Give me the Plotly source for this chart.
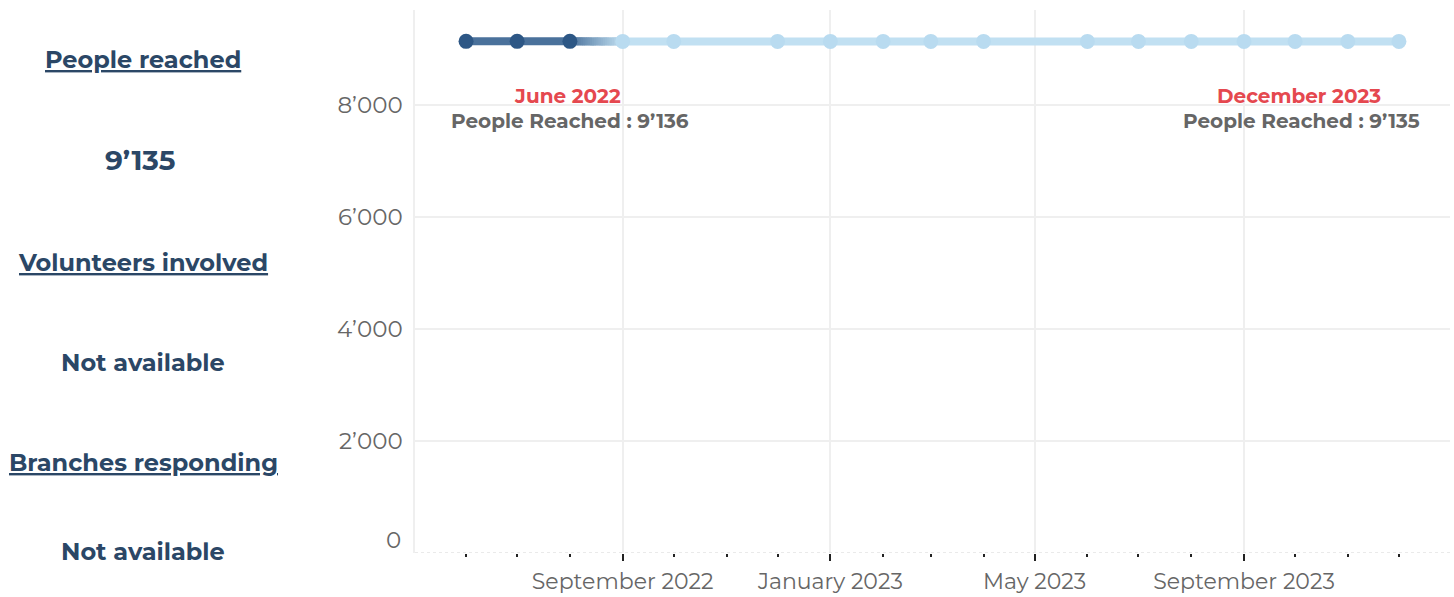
import datetime as dt
import numpy as np
import plotly.graph_objects as go

# Monthly "people reached" series
months = ["2022-06-01", "2022-07-01", "2022-08-01", "2022-09-01", "2022-10-01",
          "2022-12-01", "2023-01-01", "2023-02-01", "2023-03-01", "2023-04-01",
          "2023-06-01", "2023-07-01", "2023-08-01", "2023-09-01", "2023-10-01",
          "2023-11-01", "2023-12-01"]
people_reached = [9136, 9136, 9136, 9135, 9135, 9135, 9135, 9135, 9135, 9135,
                  9135, 9135, 9135, 9135, 9135, 9135, 9135]
n_dark = 3  # first three months shown in the dark (past) colour

# Side panel
kpi_labels = ["People reached", "Volunteers involved", "Branches responding"]
kpi_values = ["9’135", "Not available", "Not available"]

FONT = "Montserrat, Inter, Noto Sans, sans-serif"
NAVY = "#2b4766"
DARK_LINE = "#4a719b"
DARK_MARK = "#2d5785"
LIGHT_LINE = "#c1e0f2"
LIGHT_MARK = "#b9dbf0"
RED = "#e5484f"
GREY = "#666666"

W, H = 1454, 597
PLOT_L, PLOT_R, PLOT_T, PLOT_B = 415, 1450, 10, 553


def fmt(v):
    return f"{v:,}".replace(",", "’")


def month_name(d):
    return dt.date.fromisoformat(d).strftime("%B %Y")


def hex_to_rgb(h):
    h = h.lstrip("#")
    return np.array([int(h[i:i + 2], 16) for i in (0, 2, 4)], dtype=float)


fig = go.Figure()

x = np.array(months, dtype="datetime64[D]")
y = np.array(people_reached, dtype=float)

# dark part of the line
fig.add_trace(go.Scatter(x=x[:n_dark], y=y[:n_dark], mode="lines",
                         line=dict(color=DARK_LINE, width=8),
                         hoverinfo="skip", showlegend=False))
# light part of the line
fig.add_trace(go.Scatter(x=x[n_dark:], y=y[n_dark:], mode="lines",
                         line=dict(color=LIGHT_LINE, width=8),
                         hoverinfo="skip", showlegend=False))

# colour fade between the last dark month and the first light month,
# drawn as short overlapping pieces so no seams show
c0, c1 = hex_to_rgb(DARK_LINE), hex_to_rgb(LIGHT_LINE)
t0 = x[n_dark - 1].astype("datetime64[s]").astype(np.int64)
t1 = x[n_dark].astype("datetime64[s]").astype(np.int64)
ya, yb = y[n_dark - 1], y[n_dark]
steps = 24
for i in range(steps):
    a = i / steps
    b = min(1.0, (i + 2) / steps)
    col = c0 + (c1 - c0) * ((i + 0.5) / steps)
    xs = [np.datetime64(int(t0 + (t1 - t0) * a), "s"), np.datetime64(int(t0 + (t1 - t0) * b), "s")]
    ys = [ya + (yb - ya) * a, ya + (yb - ya) * b]
    fig.add_trace(go.Scatter(x=xs, y=ys, mode="lines",
                             line=dict(color=f"rgb({col[0]:.0f},{col[1]:.0f},{col[2]:.0f})", width=8),
                             hoverinfo="skip", showlegend=False))

# markers
fig.add_trace(go.Scatter(x=x[n_dark:], y=y[n_dark:], mode="markers",
                         marker=dict(color=LIGHT_MARK, size=15),
                         showlegend=False))
fig.add_trace(go.Scatter(x=x[:n_dark], y=y[:n_dark], mode="markers",
                         marker=dict(color=DARK_MARK, size=15),
                         showlegend=False))

annotations = []

# first / last point labels
for idx, dx in ((0, 101), (len(months) - 1, -100)):
    annotations.append(dict(x=months[idx], y=people_reached[idx], xref="x", yref="y",
                            text=f"<b>{month_name(months[idx])}</b>", showarrow=False,
                            xanchor="center", xshift=dx, yshift=-55,
                            font=dict(family=FONT, size=20, color=RED)))
    annotations.append(dict(x=months[idx], y=people_reached[idx], xref="x", yref="y",
                            text=f"<b>People Reached : {fmt(people_reached[idx])}</b>",
                            showarrow=False, xanchor="center", xshift=dx + 3, yshift=-80,
                            font=dict(family=FONT, size=20, color=GREY)))

# "0" y label sits slightly above the baseline
annotations.append(dict(x=PLOT_L / W, y=0, xref="paper", yref="y", text="0",
                        showarrow=False, xanchor="right", xshift=-12, yshift=13,
                        font=dict(family=FONT, size=23, color=GREY)))

# side panel
label_y = [60, 262, 462]
value_y = [160, 362, 551]
for lab, val, ly, vy in zip(kpi_labels, kpi_values, label_y, value_y):
    annotations.append(dict(x=143 / W, y=(PLOT_B - ly) / (PLOT_B - PLOT_T), xref="paper", yref="paper",
                            text=f"<b><u>{lab}</u></b>", showarrow=False,
                            xanchor="center", yanchor="middle",
                            font=dict(family=FONT, size=24, color=NAVY)))
    big = val[0].isdigit()
    annotations.append(dict(x=(140 if big else 143) / W, y=(PLOT_B - vy) / (PLOT_B - PLOT_T),
                            xref="paper", yref="paper", xanchor="center", yanchor="middle",
                            text=f"<b>{val}</b>", showarrow=False,
                            font=dict(family=FONT, size=28 if big else 24, color=NAVY)))

# dashed baseline
shapes = [dict(type="line", xref="paper", yref="y", x0=PLOT_L / W, x1=PLOT_R / W, y0=0, y1=0,
               line=dict(color="#e4e4e4", width=1.5, dash="dot"))]

fig.update_layout(
    width=W, height=H,
    margin=dict(l=0, r=0, t=PLOT_T, b=H - PLOT_B, autoexpand=False),
    paper_bgcolor="white", plot_bgcolor="white",
    separators=".’",
    font=dict(family=FONT, color=GREY),
    annotations=annotations, shapes=shapes,
    xaxis=dict(
        domain=[PLOT_L / W, PLOT_R / W],
        automargin=False,
        type="date",
        range=["2022-05-02", "2023-12-31"],
        tick0="2022-09-01", dtick="M4", tickformat="%B %Y",
        ticks="outside", ticklen=7, tickwidth=2, tickcolor="#222",
        ticklabelstandoff=2,
        tickfont=dict(family=FONT, size=22, color=GREY),
        showgrid=True, gridcolor="#efefef", gridwidth=1.5,
        minor=dict(dtick="M1", tick0="2022-06-01", ticks="outside", ticklen=3,
                   tickwidth=2, tickcolor="#222", showgrid=False),
        showline=False, zeroline=False,
    ),
    yaxis=dict(
        automargin=False,
        range=[0, 9696],
        tickvals=[2000, 4000, 6000, 8000], tickformat=",",
        tickfont=dict(family=FONT, size=23, color=GREY),
        ticks="", ticklabelstandoff=6,
        showgrid=True, gridcolor="#efefef", gridwidth=1.5,
        showline=True, linecolor="#efefef", linewidth=1.5,
        zeroline=False,
    ),
)

fig.write_html("out.html")
